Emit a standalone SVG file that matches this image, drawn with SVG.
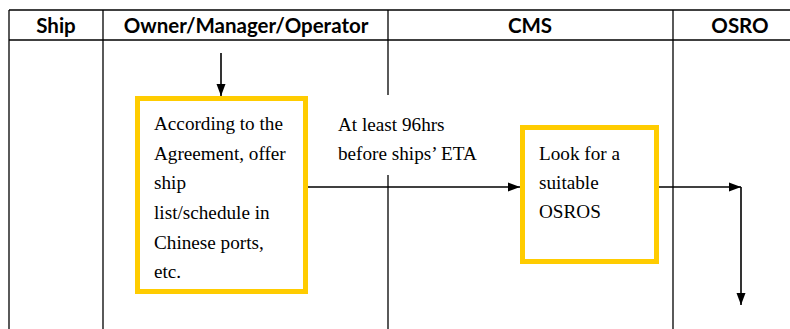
<svg xmlns="http://www.w3.org/2000/svg" width="790" height="329" viewBox="0 0 790 329">
<style>
.grid{stroke:#000;stroke-width:1.3;fill:none}
.hdr{font-family:Lato,"Open Sans","Liberation Sans",sans-serif;font-weight:bold;font-size:20.5px;fill:#000;text-anchor:middle}
.box{fill:#fff;stroke:#FFCC00;stroke-width:5}
.txt{font-family:"Liberation Serif","Times New Roman",serif;font-size:19.2px;fill:#000}
.conn{stroke:#000;stroke-width:1.6;fill:none}
</style>
<defs>
<marker id="ah" viewBox="0 0 12 10" refX="12" refY="5" markerWidth="12" markerHeight="10" markerUnits="userSpaceOnUse" orient="auto">
<path d="M0,0.5 L12,5 L0,9.5 Z" fill="#000"/>
</marker>
</defs>
<rect width="790" height="329" fill="#fff"/>
<g id="table">
<line class="grid" x1="9" y1="10" x2="790" y2="10"/>
<line class="grid" x1="9" y1="40" x2="790" y2="40"/>
<line class="grid" x1="9" y1="10" x2="9" y2="329"/>
<line class="grid" x1="103" y1="10" x2="103" y2="329"/>
<line class="grid" x1="388" y1="10" x2="388" y2="95"/>
<line class="grid" x1="388" y1="175" x2="388" y2="329"/>
<line class="grid" x1="673" y1="10" x2="673" y2="329"/>
<text class="hdr" x="56" y="33">Ship</text>
<text class="hdr" x="246" y="33">Owner/Manager/Operator</text>
<text class="hdr" x="530" y="33">CMS</text>
<text class="hdr" x="740" y="33">OSRO</text>
</g>
<g id="node-offer">
<rect class="box" x="137.5" y="98.5" width="168" height="193"/>
<text class="txt" x="154" y="130">According to the</text>
<text class="txt" x="154" y="160">Agreement, offer</text>
<text class="txt" x="154" y="189">ship</text>
<text class="txt" x="154" y="219">list/schedule in</text>
<text class="txt" x="154" y="249">Chinese ports,</text>
<text class="txt" x="154" y="278">etc.</text>
</g>
<g id="node-look">
<rect class="box" x="522.5" y="127.5" width="134" height="134"/>
<text class="txt" x="539" y="160">Look for a</text>
<text class="txt" x="539" y="189">suitable</text>
<text class="txt" x="539" y="218">OSROS</text>
</g>
<g id="connectors">
<line class="conn" x1="221" y1="53" x2="221" y2="96" marker-end="url(#ah)"/>
<line class="conn" x1="308" y1="187" x2="520" y2="187" marker-end="url(#ah)"/>
<line class="conn" x1="659" y1="187" x2="741" y2="187" marker-end="url(#ah)"/>
<line class="conn" x1="741" y1="187" x2="741" y2="305" marker-end="url(#ah)"/>
<text class="txt" x="338" y="131">At least 96hrs</text>
<text class="txt" x="338" y="160">before ships’ ETA</text>
</g>
</svg>
